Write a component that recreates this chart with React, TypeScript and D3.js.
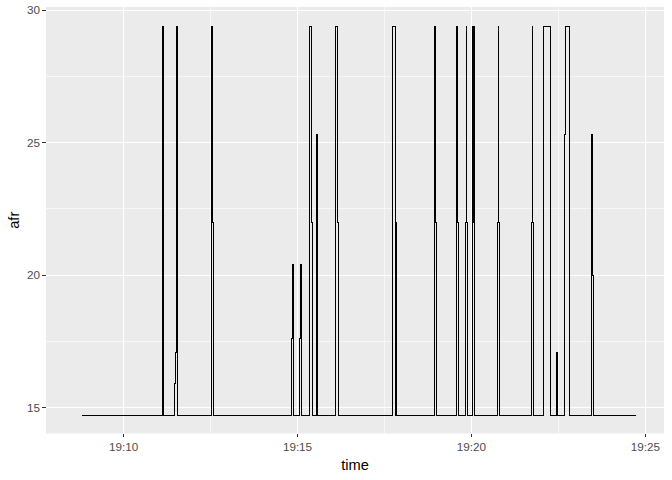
import React from 'react';
import * as d3 from 'd3';

// afr log: timestamps (HH:MM:SS.s) and value held from that moment on
const times = [
  '19:08:48.7',
  '19:11:07.3', '19:11:09.0',
  '19:11:27.5', '19:11:29.9', '19:11:31.6', '19:11:32.6',
  '19:12:31.6', '19:12:33.4', '19:12:35.1',
  '19:14:50.0', '19:14:51.6', '19:14:53.3',
  '19:15:03.1', '19:15:05.2', '19:15:06.9',
  '19:15:20.2', '19:15:24.0', '19:15:25.6',
  '19:15:32.5', '19:15:34.2',
  '19:16:05.2', '19:16:08.7', '19:16:10.8',
  '19:17:43.6', '19:17:48.8', '19:17:50.0',
  '19:18:56.4', '19:18:58.1', '19:18:59.5',
  '19:19:34.7', '19:19:36.2', '19:19:37.5',
  '19:19:49.5', '19:19:51.3', '19:19:51.8', '19:19:53.0',
  '19:20:01.6', '19:20:04.5', '19:20:05.4',
  '19:20:45.4', '19:20:46.8', '19:20:47.3', '19:20:48.2',
  '19:21:44.3', '19:21:45.6', '19:21:46.1', '19:21:47.4',
  '19:22:04.1', '19:22:16.2',
  '19:22:26.4', '19:22:28.1',
  '19:22:40.3', '19:22:42.1', '19:22:49.3',
  '19:23:27.6', '19:23:29.3', '19:23:30.4',
  '19:24:43.5',
];

const afr = [
  14.7,
  29.4, 14.7,
  15.9, 17.1, 29.4, 14.7,
  29.4, 22, 14.7,
  17.6, 20.4, 14.7,
  17.6, 20.4, 14.7,
  29.4, 22, 14.7,
  25.3, 14.7,
  29.4, 22, 14.7,
  29.4, 22, 14.7,
  29.4, 22, 14.7,
  29.4, 22, 14.7,
  22, 29.4, 22, 14.7,
  29.4, 22, 14.7,
  22, 29.4, 22, 14.7,
  22, 29.4, 22, 14.7,
  29.4, 14.7,
  17.1, 14.7,
  25.3, 29.4, 14.7,
  25.3, 20, 14.7,
  14.7,
];

const xMajor = ['19:10:00', '19:15:00', '19:20:00', '19:25:00'];
const xMinor = ['19:12:30', '19:17:30', '19:22:30'];
const xLabels = ['19:10', '19:15', '19:20', '19:25'];
const yMajor = [15, 20, 25, 30];
const yMinor = [17.5, 22.5, 27.5];
const xDomain = ['19:07:46.1', '19:25:32.3'];
const yDomain = [14.026, 30.1245];

const toDate = (s: string) => {
  const [h, m, sec] = s.split(':');
  return new Date(2020, 0, 1, +h, +m, 0, Math.round(parseFloat(sec) * 1000));
};

const W = 672;
const H = 480;
const panel = { left: 46, right: 664, top: 7, bottom: 433.5 };

const App: React.FC = () => {
  const x = d3.scaleTime()
    .domain(xDomain.map(toDate))
    .range([panel.left, panel.right]);
  const y = d3.scaleLinear()
    .domain(yDomain)
    .range([panel.bottom, panel.top]);

  const data = times.map((t, i) => ({ t: toDate(t), v: afr[i] }));
  const line = d3.line<{ t: Date; v: number }>()
    .x(d => x(d.t))
    .y(d => y(d.v))
    .curve(d3.curveStepAfter);

  const axisText = { fontFamily: 'Liberation Sans, Arial, sans-serif', fontSize: 11.7, fill: '#4D4D4D' };
  const titleText = { fontFamily: 'Liberation Sans, Arial, sans-serif', fontSize: 14.67, fill: '#000000' };

  return (
    <svg width={W} height={H} style={{ position: 'absolute', left: 0, top: 0, background: '#FFFFFF' }}>
      <rect x={panel.left} y={panel.top} width={panel.right - panel.left} height={panel.bottom - panel.top} fill="#EBEBEB" />
      <g shapeRendering="crispEdges">
        {yMinor.map(v => (
          <line key={'ym' + v} x1={panel.left} x2={panel.right} y1={y(v)} y2={y(v)} stroke="#F7F7F7" strokeWidth={1} />
        ))}
        {xMinor.map(t => (
          <line key={'xm' + t} x1={x(toDate(t))} x2={x(toDate(t))} y1={panel.top} y2={panel.bottom} stroke="#F7F7F7" strokeWidth={1} />
        ))}
        {yMajor.map(v => (
          <line key={'yM' + v} x1={panel.left} x2={panel.right} y1={y(v)} y2={y(v)} stroke="#FFFFFF" strokeWidth={1.1} />
        ))}
        {xMajor.map(t => (
          <line key={'xM' + t} x1={x(toDate(t))} x2={x(toDate(t))} y1={panel.top} y2={panel.bottom} stroke="#FFFFFF" strokeWidth={1.1} />
        ))}
        <path d={line(data) || ''} fill="none" stroke="#000000" strokeWidth={1.1} />
        {yMajor.map(v => (
          <line key={'yt' + v} x1={panel.left - 3.7} x2={panel.left} y1={y(v)} y2={y(v)} stroke="#333333" strokeWidth={1.1} />
        ))}
        {xMajor.map(t => (
          <line key={'xt' + t} x1={x(toDate(t))} x2={x(toDate(t))} y1={panel.bottom} y2={panel.bottom + 3.7} stroke="#333333" strokeWidth={1.1} />
        ))}
      </g>
      {yMajor.map(v => (
        <text key={'yl' + v} x={40} y={y(v)} dy="0.35em" textAnchor="end" style={axisText}>{v}</text>
      ))}
      {xMajor.map((t, i) => (
        <text key={'xl' + t} x={x(toDate(t))} y={451} textAnchor="middle" style={axisText}>{xLabels[i]}</text>
      ))}
      <text x={(panel.left + panel.right) / 2} y={470} textAnchor="middle" style={titleText}>time</text>
      <text transform={`translate(19,${(panel.top + panel.bottom) / 2}) rotate(-90)`} textAnchor="middle" style={titleText}>afr</text>
    </svg>
  );
};

export default App;
